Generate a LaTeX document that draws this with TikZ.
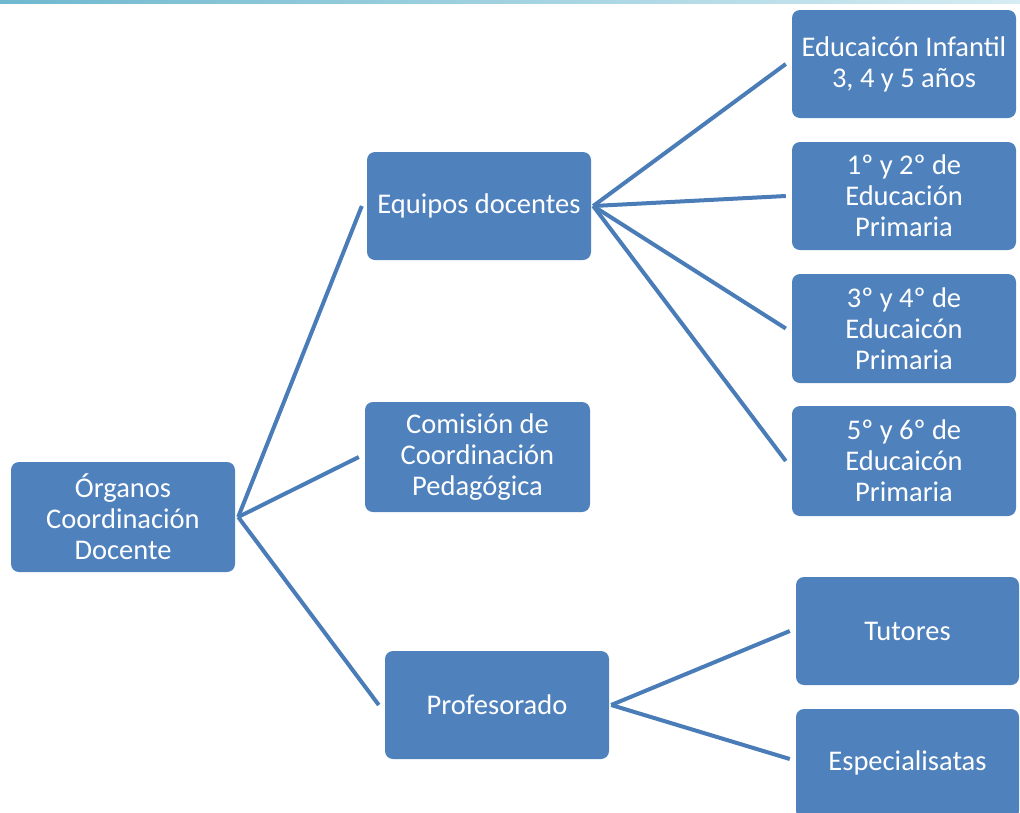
\documentclass[tikz,border=0pt]{standalone}
\usepackage{fontspec}
\setmainfont{Carlito}
\definecolor{boxblue}{HTML}{4F81BD}
\definecolor{lineblue}{HTML}{4A7CB7}
\definecolor{stripA}{HTML}{6FB8CF}
\definecolor{stripB}{HTML}{D5ECF2}
\begin{document}
\begin{tikzpicture}[x=1pt,y=-1pt,
  box/.style={draw=none,fill=boxblue,rounded corners=8pt,minimum width=224pt,minimum height=108pt,
    inner sep=0pt,align=center,text=white,font=\fontsize{28.5pt}{31pt}\selectfont},
  conn/.style={draw=lineblue,line width=4pt}]
\useasboundingbox (0,0) rectangle (1020,812);
\clip (0,0) rectangle (1020,812);
\shade[left color=stripA,right color=stripB] (0,0) rectangle (1020,3.5);
% nodes
\node[box,minimum height=110pt] (org) at (123,517) {Órganos\\Coordinación\\Docente};
\node[box] (eq) at (479,206) {Equipos docentes};
\node[box,minimum width=225pt,minimum height=110pt] (com) at (477.5,457) {Comisión de\\Coordinación\\Pedagógica};
\node[box] (prof) at (497,705) {Profesorado};
\node[box] (ei) at (904,64) {Educaicón Infantil\\3, 4 y 5 años};
\node[box] (p12) at (904,196) {1º y 2º de\\Educación\\Primaria};
\node[box,minimum height=109pt] (p34) at (904,328.5) {3º y 4º de\\Educaicón\\Primaria};
\node[box,minimum height=110pt] (p56) at (904,461) {5º y 6º de\\Educaicón\\Primaria};
\node[box,minimum width=223pt] (tut) at (907.5,631) {Tutores};
\node[box,minimum width=223pt,minimum height=110pt] (esp) at (907.5,764) {};
\node[font=\fontsize{28.5pt}{31pt}\selectfont,text=white,inner sep=0pt] (esptext) at (907.5,763) {Especialisatas};
% connectors
\draw[conn] ([xshift=3pt]org.east) -- ([xshift=-5pt]eq.west);
\draw[conn] ([xshift=3pt]org.east) -- ([xshift=-6pt]com.west);
\draw[conn] ([xshift=3pt]org.east) -- ([xshift=-6pt]prof.west);
\draw[conn] ([xshift=2pt]eq.east) -- ([xshift=-6pt]ei.west);
\draw[conn] ([xshift=2pt]eq.east) -- ([xshift=-6pt]p12.west);
\draw[conn] ([xshift=2pt]eq.east) -- ([xshift=-6pt]p34.west);
\draw[conn] ([xshift=2pt]eq.east) -- ([xshift=-6pt]p56.west);
\draw[conn] ([xshift=2pt]prof.east) -- ([xshift=-6pt]tut.west);
\draw[conn] ([xshift=2pt]prof.east) -- ([xshift=-6pt,yshift=5pt]esp.west);
\end{tikzpicture}
\end{document}
